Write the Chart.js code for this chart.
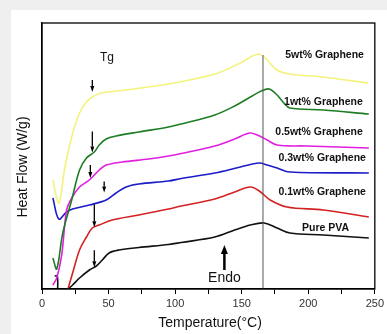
<!DOCTYPE html>
<html>
<head>
<meta charset="utf-8">
<script src="https://cdn.jsdelivr.net/npm/chart.js@4.4.1/dist/chart.umd.min.js"></script>
<style>
  html, body { margin: 0; padding: 0; background: #efefef; }
  #card { position: absolute; left: 11px; top: 10px; width: 376px; height: 324px; background: #fff; }
  #wrap { position: absolute; left: 0; top: 0; width: 387px; height: 334px; }
</style>
</head>
<body>
<div id="card"></div>
<div id="wrap"><canvas id="dsc"></canvas></div>
<script>
// DSC heating curves, heat flow in arbitrary units (stacked offsets)
const tempYellow = [8.2, 12.6, 17.1, 22.3, 28.2, 33.4, 37.8, 44.5, 60, 80, 95, 105, 130, 149, 158, 163, 167, 176.6, 186, 211, 245];
const heatYellow = [109, 86, 121, 152, 176, 187, 192, 196, 198.5, 202, 205, 207.5, 215, 226, 233, 235, 232, 219, 215, 212, 206];

const tempGreen = [8.2, 11.1, 15.6, 22.3, 28.2, 33.4, 39.3, 43, 48.2, 55.6, 72.7, 95, 104.6, 129.8, 144.7, 156.5, 164.7, 170.6, 176.6, 181.7, 186.2, 211.4, 245.5];
const heatGreen = [31, 20, 56, 89, 119, 131, 137, 144, 150, 153, 157, 162, 165, 174, 183, 192, 198, 200, 194, 186, 181, 179, 175];

const tempMagenta = [8.2, 11.1, 14.8, 18.5, 22.3, 28.2, 35.6, 43, 48.2, 60.1, 80.1, 95, 104.6, 129.8, 144.7, 155.8, 161.7, 169.1, 176.6, 198.8, 245.5];
const heatMagenta = [4, 11, 34, 79, 91, 102, 109, 119, 124, 127, 130, 133, 135.5, 143, 150, 156, 154, 149, 144, 143, 141];

const tempBlue = [8.2, 12.6, 18.5, 23, 35.6, 48.2, 55.6, 63.1, 72.7, 95, 104.6, 129.8, 149.1, 163.2, 169.1, 176.6, 186.2, 245.5];
const heatBlue = [91, 70, 77, 80, 84, 89, 96, 102, 105, 108, 110.5, 116, 122, 126, 124, 121, 117, 116];

const tempRed = [19.5, 23, 28.2, 33.4, 37.8, 43, 52.7, 72.7, 95, 104.6, 129.8, 144.7, 156.5, 163.2, 171.4, 184, 211.4, 245.5];
const heatRed = [0, 16, 39, 52, 61, 64, 69, 74, 80, 83, 90, 97, 102, 98, 89, 82, 79, 72];

const tempBlack = [9.5, 11.5, 11.8, 15, 19.5, 23, 28.2, 35.6, 40.8, 45.3, 50.4, 57.9, 72.7, 95, 104.6, 129.8, 144.7, 156.5, 166.9, 176.6, 186.2, 211.4, 245.5];
const heatBlack = [13, 13, 0, null, 0, 4, 11, 19, 23, 29, 36, 39, 41.5, 44.5, 46.5, 52, 59, 64, 66, 61, 56, 54, 51];

const sampleNames = ['5wt% Graphene', '1wt% Graphene', '0.5wt% Graphene', '0.3wt% Graphene', '0.1wt% Graphene', 'Pure PVA'];
const tgTemps = [37.8, 37.8, 36.3, 46.7, 39.3, 39.3];
const peakTemp = 166;
const endoTemp = 137;

const xTicks = [0, 50, 100, 150, 200, 250];

const series = [
  { t: tempYellow, h: heatYellow, color: '#f3f37c' },
  { t: tempGreen, h: heatGreen, color: '#1e7d24' },
  { t: tempMagenta, h: heatMagenta, color: '#e01fe0' },
  { t: tempBlue, h: heatBlue, color: '#1c1cc8' },
  { t: tempRed, h: heatRed, color: '#d42222' },
  { t: tempBlack, h: heatBlack, color: '#111111' }
];

// arrow length / gap above curve and label anchor, per sample
const tgStyle = [
  { len: 12, gap: 5 }, { len: 21, gap: 1 }, { len: 13, gap: 1 },
  { len: 11, gap: 8 }, { len: 23, gap: 0 }, { len: 17, gap: 0 }
];
const labelAnchor = [
  { t: 241.8, h: 234 }, { t: 241, h: 187 }, { t: 241, h: 157 },
  { t: 243.3, h: 131 }, { t: 243.3, h: 97 }, { t: 230.7, h: 61 }
];

function heatAt(s, temp) {
  for (let i = 1; i < s.t.length; i++) {
    const a = s.h[i - 1], b = s.h[i];
    if (a == null || b == null) continue;
    if (temp >= s.t[i - 1] && temp <= s.t[i]) {
      const f = (temp - s.t[i - 1]) / (s.t[i] - s.t[i - 1]);
      return a + f * (b - a);
    }
  }
  return 0;
}

function arrow(ctx, x, yFrom, yTo, shaft, headW, headL) {
  const dir = yTo > yFrom ? 1 : -1;
  ctx.lineWidth = shaft;
  ctx.beginPath();
  ctx.moveTo(x, yFrom);
  ctx.lineTo(x, yTo - dir * headL);
  ctx.stroke();
  ctx.beginPath();
  ctx.moveTo(x - headW / 2, yTo - dir * headL);
  ctx.lineTo(x + headW / 2, yTo - dir * headL);
  ctx.lineTo(x, yTo);
  ctx.closePath();
  ctx.fill();
}

const overlay = {
  id: 'overlay',
  afterDraw(chart) {
    const { ctx, chartArea: a, scales: { x, y } } = chart;
    ctx.save();

    // peak temperature marker
    ctx.strokeStyle = '#555';
    ctx.lineWidth = 1;
    ctx.beginPath();
    ctx.moveTo(x.getPixelForValue(peakTemp), y.getPixelForValue(234));
    ctx.lineTo(x.getPixelForValue(peakTemp), a.bottom);
    ctx.stroke();

    // plot frame
    ctx.strokeStyle = '#000';
    ctx.lineWidth = 1.3;
    ctx.strokeRect(a.left, a.top, a.right - a.left, a.bottom - a.top);

    // Tg arrows
    ctx.strokeStyle = '#000';
    ctx.fillStyle = '#000';
    series.forEach((s, i) => {
      const px = x.getPixelForValue(tgTemps[i]);
      const tip = y.getPixelForValue(heatAt(s, tgTemps[i])) - tgStyle[i].gap;
      arrow(ctx, px, tip - tgStyle[i].len, tip, 1.3, 4, 6);
    });

    // endotherm arrow
    const ex = x.getPixelForValue(endoTemp);
    arrow(ctx, ex, y.getPixelForValue(19), y.getPixelForValue(44), 2.5, 7, 9);

    ctx.fillStyle = '#111';
    ctx.textBaseline = 'middle';
    ctx.textAlign = 'center';
    ctx.font = '14px "Liberation Sans", Arial, sans-serif';
    ctx.fillText('Endo', ex, 278);
    ctx.font = '12px "Liberation Sans", Arial, sans-serif';
    ctx.fillText('Tg', 107, 58);

    // sample names
    ctx.textAlign = 'right';
    ctx.font = 'bold 10.5px "Liberation Sans", Arial, sans-serif';
    sampleNames.forEach((name, i) => {
      ctx.fillText(name, x.getPixelForValue(labelAnchor[i].t), y.getPixelForValue(labelAnchor[i].h));
    });

    // axis titles
    ctx.textAlign = 'center';
    ctx.font = '14px "Liberation Sans", Arial, sans-serif';
    ctx.fillText('Temperature(\u00B0C)', 210, 323);
    ctx.translate(23, 167);
    ctx.rotate(-Math.PI / 2);
    ctx.fillText('Heat Flow (W/g)', 0, 0);

    ctx.restore();
  }
};

new Chart(document.getElementById('dsc'), {
  type: 'line',
  data: {
    datasets: series.map((s, i) => ({
      label: sampleNames[i],
      data: s.t.map((t, k) => ({ x: t, y: s.h[k] })),
      borderColor: s.color,
      borderWidth: 1.6,
      pointRadius: 0,
      fill: false,
      spanGaps: false,
      tension: 0.35
    }))
  },
  options: {
    responsive: true,
    maintainAspectRatio: false,
    animation: false,
    layout: { padding: { left: 42, top: 23, right: 8, bottom: 0 } },
    plugins: { legend: { display: false }, tooltip: { enabled: false } },
    scales: {
      x: {
        type: 'linear',
        min: 0,
        max: 250,
        afterFit: scale => { scale.height = 45; },
        afterBuildTicks: scale => {
          const all = [];
          for (let v = 0; v <= 250; v += 25) all.push({ value: v });
          scale.ticks = all;
        },
        ticks: {
          autoSkip: false,
          maxRotation: 0,
          padding: 3,
          color: '#333',
          font: { size: 11, family: '"Liberation Sans", Arial, sans-serif' },
          callback: v => xTicks.includes(v) ? v : ''
        },
        grid: { drawOnChartArea: false, drawTicks: true, tickLength: 5, color: '#000', lineWidth: 1 },
        border: { display: true, color: '#000', width: 1.3 }
      },
      y: {
        min: 0,
        max: 266,
        afterFit: scale => { scale.width = 0; },
        ticks: { display: false },
        grid: { display: false },
        border: { display: true, color: '#000', width: 1.3 }
      }
    }
  },
  plugins: [overlay]
});
</script>
</body>
</html>
